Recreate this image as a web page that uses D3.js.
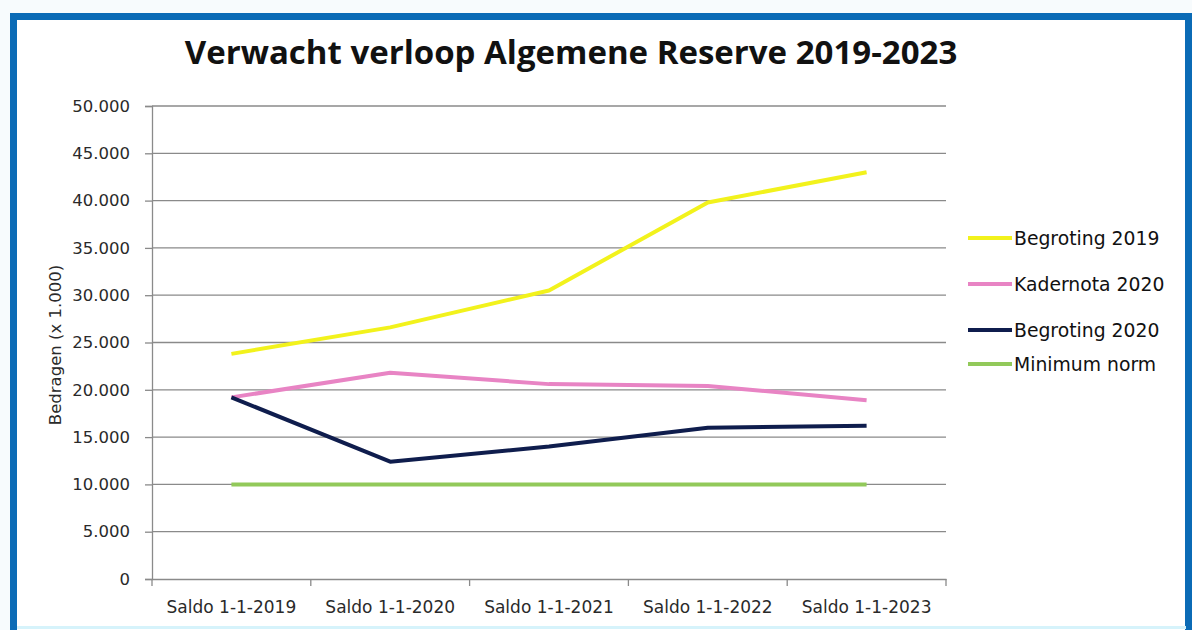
<!DOCTYPE html>
<html><head><meta charset="utf-8">
<script src="https://cdn.jsdelivr.net/npm/d3@7"></script>
<style>body{margin:0;background:#fff;}svg{display:block;}</style>
</head><body>
<svg id="chart" width="1192" height="630"></svg>
<script>
const categories = ["Saldo 1-1-2019","Saldo 1-1-2020","Saldo 1-1-2021","Saldo 1-1-2022","Saldo 1-1-2023"];
const begroting2019 = [23800, 26600, 30500, 39800, 43000];
const kadernota2020 = [19200, 21800, 20600, 20400, 18900];
const begroting2020 = [19200, 12400, 14000, 16000, 16200];
const minimumNorm  = [10000, 10000, 10000, 10000, 10000];
const seriesNames = ["Begroting 2019","Kadernota 2020","Begroting 2020","Minimum norm"];
const seriesColors = ["#f2f21c","#e884c4","#0f1d4d","#92c95a"];
const yTicks = [0,5000,10000,15000,20000,25000,30000,35000,40000,45000,50000];
const title = "Verwacht verloop Algemene Reserve 2019-2023";
const yTitle = "Bedragen (x 1.000)";

const series = [begroting2019, kadernota2020, begroting2020, minimumNorm];
const svg = d3.select("#chart");
const axisFont = "'DejaVu Sans', sans-serif";

// outer background & frame
svg.append("rect").attr("x",0).attr("y",0).attr("width",1192).attr("height",630).attr("fill","#f7fbfd");
svg.append("rect").attr("x",13.5).attr("y",16.5).attr("width",1175).attr("height",620)
  .attr("fill","#ffffff").attr("stroke","#0b6bb6").attr("stroke-width",7);
svg.append("line").attr("x1",17).attr("x2",1186).attr("y1",627.5).attr("y2",627.5).attr("stroke","#d6f3fb").attr("stroke-width",3);

const L = 152, R = 946, T = 106, B = 579;
const x = d3.scaleBand().domain(categories).range([L,R]);
const y = d3.scaleLinear().domain([0,50000]).range([B,T]);
const fmt = v => d3.format(",")(v).replace(/,/g,".");

// gridlines
svg.append("g").selectAll("line").data(yTicks.filter(d=>d>0)).join("line")
  .attr("x1",L).attr("x2",R).attr("y1",d=>y(d)).attr("y2",d=>y(d))
  .attr("stroke","#8a8a8a").attr("stroke-width",1.3);

// y axis
const ya = svg.append("g").attr("transform",`translate(${L},0)`)
  .call(d3.axisLeft(y).tickValues(yTicks).tickFormat(fmt).tickSize(7).tickPadding(15));
ya.select(".domain").attr("stroke","#8a8a8a").attr("stroke-width",1.3);
ya.selectAll(".tick line").attr("stroke","#8a8a8a").attr("stroke-width",1.3);
ya.selectAll("text").style("font-family",axisFont).style("font-size","16.5px").attr("fill","#2a2a2a");

// x axis
const xa = svg.append("g").attr("transform",`translate(0,${B})`)
  .call(d3.axisBottom(x).tickSize(0));
xa.select(".domain").attr("stroke","#8a8a8a").attr("stroke-width",1.3);
xa.selectAll("text").attr("y",34).attr("dy",0)
  .style("font-family",axisFont).style("font-size","17px").attr("fill","#2a2a2a");
const bounds = categories.map(c=>x(c)).concat([R]);
svg.append("g").selectAll("line").data(bounds).join("line")
  .attr("x1",d=>d).attr("x2",d=>d).attr("y1",B).attr("y2",B+7)
  .attr("stroke","#8a8a8a").attr("stroke-width",1.3);

// lines
const line = d3.line().x((d,i)=>x(categories[i])+x.bandwidth()/2).y(d=>y(d));
svg.append("g").selectAll("path").data(series).join("path")
  .attr("d",line).attr("fill","none")
  .attr("stroke",(d,i)=>seriesColors[i]).attr("stroke-width",4)
  .attr("stroke-linejoin","round");

// title
svg.append("text").attr("x",571).attr("y",64).attr("text-anchor","middle")
  .style("font-family","'Open Sans', sans-serif").style("font-weight","bold").style("font-size","33px")
  .attr("fill","#111").text(title);

// y title
svg.append("text").attr("transform","translate(61,345) rotate(-90)").attr("text-anchor","middle")
  .style("font-family",axisFont).style("font-size","16.5px").attr("fill","#2a2a2a").text(yTitle);

// legend
const legY = [238,284,330,364];
const lg = svg.append("g").selectAll("g").data(seriesNames).join("g")
  .attr("transform",(d,i)=>`translate(968,${legY[i]})`);
lg.append("line").attr("x1",0).attr("x2",44).attr("stroke",(d,i)=>seriesColors[i]).attr("stroke-width",4);
lg.append("text").attr("x",46).attr("dy","0.36em")
  .style("font-family",axisFont).style("font-size","18.8px").attr("fill","#111").text(d=>d);
</script>
</body></html>
